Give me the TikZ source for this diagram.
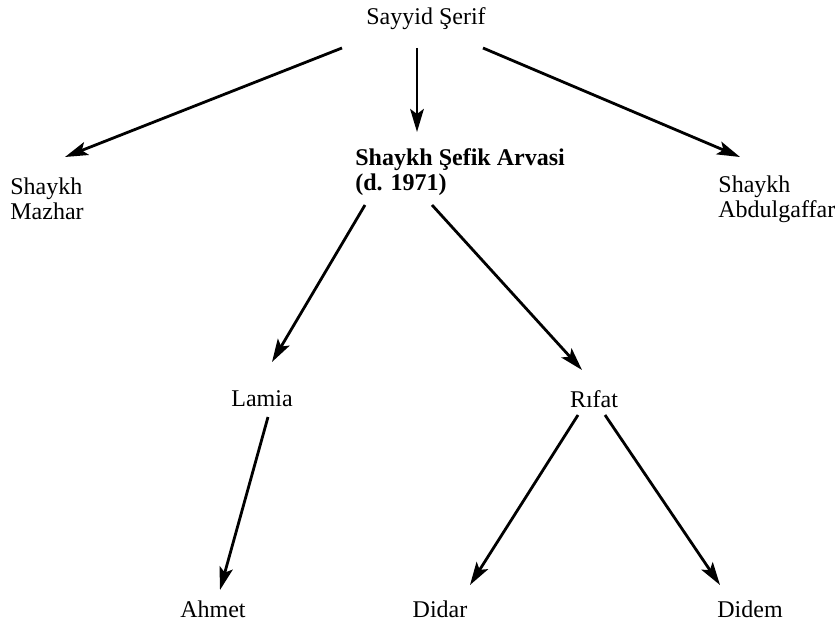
\documentclass[tikz,border=0pt]{standalone}
\usepackage{fontspec}
\setmainfont{Liberation Serif}
\usetikzlibrary{arrows.meta}
\begin{document}
\begin{tikzpicture}[x=0.5pt,y=-0.5pt,
  person/.style={inner sep=0pt, font=\fontsize{12}{12.5}\selectfont, align=left},
  link/.style={line width=1.4pt, -{Stealth[length=11.5pt,width=6.8pt,inset=2.5pt]}}]
  \useasboundingbox (0,0) rectangle (835,620);
  % family members
  \node[person] (sayyid) at (426,19) {Sayyid Şerif};
  \node[person, anchor=west] (mazhar) at (10,199) {Shaykh\\Mazhar};
  \node[person, anchor=west, font=\fontsize{12}{12.5}\selectfont\bfseries] (sefik) at (355,172) {Shaykh Şefik Arvasi\\(d. 1971)};
  \node[person, anchor=west] (abdul) at (718,199) {Shaykh\\Abdulgaffar};
  \node[person] (lamia) at (262,399) {Lamia};
  \node[person] (rifat) at (594,399) {Rıfat};
  \node[person] (ahmet) at (213,609) {Ahmet};
  \node[person] (didar) at (440,609) {Didar};
  \node[person] (didem) at (750,609) {Didem};
  % lines of descent
  \draw[link] ([shift={(-84,29)}]sayyid.center) -- ([shift={(55,-42)}]mazhar.west);
  \draw[link] ([shift={(-9,29)}]sayyid.center) -- ([shift={(62,-40)}]sefik.west);
  \draw[link] ([shift={(57,29)}]sayyid.center) -- ([shift={(22,-42)}]abdul.west);
  \draw[link] ([shift={(10,33)}]sefik.west) -- ([shift={(10,-37)}]lamia.center);
  \draw[link] ([shift={(77,33)}]sefik.west) -- ([shift={(-12,-29)}]rifat.center);
  \draw[link] ([shift={(6,18)}]lamia.center) -- ([shift={(7,-19)}]ahmet.center);
  \draw[link] ([shift={(-16,16)}]rifat.center) -- ([shift={(30,-24)}]didar.center);
  \draw[link] ([shift={(11,16)}]rifat.center) -- ([shift={(-30,-24)}]didem.center);
\end{tikzpicture}
\end{document}
